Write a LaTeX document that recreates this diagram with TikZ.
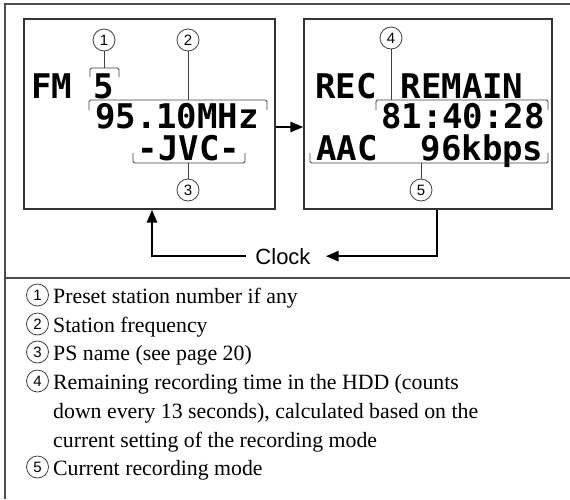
\documentclass[tikz,border=0pt]{standalone}
\usepackage{fontspec}
\setmainfont{Liberation Serif}
\newfontfamily\lcd{DejaVu Sans Mono}
\newfontfamily\hv{Liberation Sans}
\usetikzlibrary{arrows.meta,calc}
\tikzset{
  frame/.style={draw=black!70, line width=1.4pt},
  screen/.style={draw=black!80, line width=1.2pt, inner sep=0, minimum width=#1},
  lcdtxt/.style={anchor=base, inner sep=0, font=\lcd\bfseries\fontsize{34}{34}\selectfont},
  brk/.style={draw=black!75, line width=0.9pt, rounded corners=1.5pt},
  num/.style={circle, draw=black!75, line width=0.8pt, inner sep=0, minimum size=22pt, font=\hv\fontsize{15}{15}\selectfont},
  lead/.style={draw=black!75, line width=0.9pt},
  arr/.style={draw=black, line width=2.6pt, -{Triangle[length=13pt,width=10pt]}},
  item/.style={anchor=base west, inner sep=0, font=\fontsize{21.8}{21.8}\selectfont},
}
\begin{document}
\begin{tikzpicture}[x=1pt,y=-1pt]
\useasboundingbox (0,0) rectangle (570,499);
% outer frame
\draw[frame] (570,4) -- (5,4) -- (5,499);
\draw[frame] (5,278) -- (570,278);
% screens
\node[screen=251pt, minimum height=190pt] (L) at (149.5,114) {};
\node[screen=248pt, minimum height=190pt] (R) at (428,114) {};
% left screen text
\node[lcdtxt] (fm) at (52,98) {FM};
\node[lcdtxt] (pre) at (104,98) {5};
\node[lcdtxt] (freq) at (177,128) {95.10MHz};
\node[lcdtxt] (ps) at (189,160) {-JVC-};
% right screen text
\node[lcdtxt] (rec) at (346,98) {REC};
\node[lcdtxt] (rem) at (462,98) {REMAIN};
\node[lcdtxt] (time) at (463,128) {81:40:28};
\node[lcdtxt] (aac) at (347,160) {AAC};
\node[lcdtxt] (rate) at (482,160) {96kbps};
% brackets
\draw[brk] (90,77) -- (90,68) -- (119,68) -- (119,77);
\draw[brk] (89,110) -- (89,100) -- (267,100) -- (267,110);
\draw[brk] (133,153) -- (133,163) -- (245,163) -- (245,153);
\draw[brk] (376,110) -- (376,100) -- (548,100) -- (548,110);
\draw[brk] (310,153) -- (310,163) -- (548,163) -- (548,153);
\coordinate (b1) at (104,68);
\coordinate (b2) at (188,100);
\coordinate (b3) at (188,163);
\coordinate (b4) at (391,100);
\coordinate (b5) at (421,163);
% callout numbers
\node[num] (c1) at (104,40) {1};
\node[num] (c2) at (188,40) {2};
\node[num] (c3) at (188,190) {3};
\node[num] (c4) at (391,38) {4};
\node[num] (c5) at (421,190) {5};
\draw[lead] (c1) -- (b1);
\draw[lead] (c2) -- (b2);
\draw[lead] (c3) -- (b3);
\draw[lead] (c4) -- (b4);
\draw[lead] (c5) -- (b5);
% arrows
\draw[arr] ($(L.east)+(0,13)$) -- ($(R.west)+(0,13)$);
\node[anchor=base, inner sep=0, font=\hv\fontsize{22}{22}\selectfont] (clk) at (283,264) {Clock};
\draw[arr] ($(R.south)+(9,0)$) |- ($(clk.east)+(15,0)$);
\draw[arr] ($(clk.west)+(-9,0)$) -| ($(L.south)+(2.5,0)$);
% list
\node[num] (n1) at (37.5,295) {1};
\node[num] (n2) at (37.5,324) {2};
\node[num] (n3) at (37.5,352) {3};
\node[num] (n4) at (37.5,381) {4};
\node[num] (n5) at (37.5,467) {5};
\node[item] (t1) at (53,303) {Preset station number if any};
\node[item] (t2) at (53,332) {Station frequency};
\node[item] (t3) at (53,360) {PS name (see page 20)};
\node[item] (t4) at (53,389) {Remaining recording time in the HDD (counts};
\node[item] (t4b) at (53,418) {down every 13 seconds), calculated based on the};
\node[item] (t4c) at (53,447) {current setting of the recording mode};
\node[item] (t5) at (53,475) {Current recording mode};
\end{tikzpicture}
\end{document}
